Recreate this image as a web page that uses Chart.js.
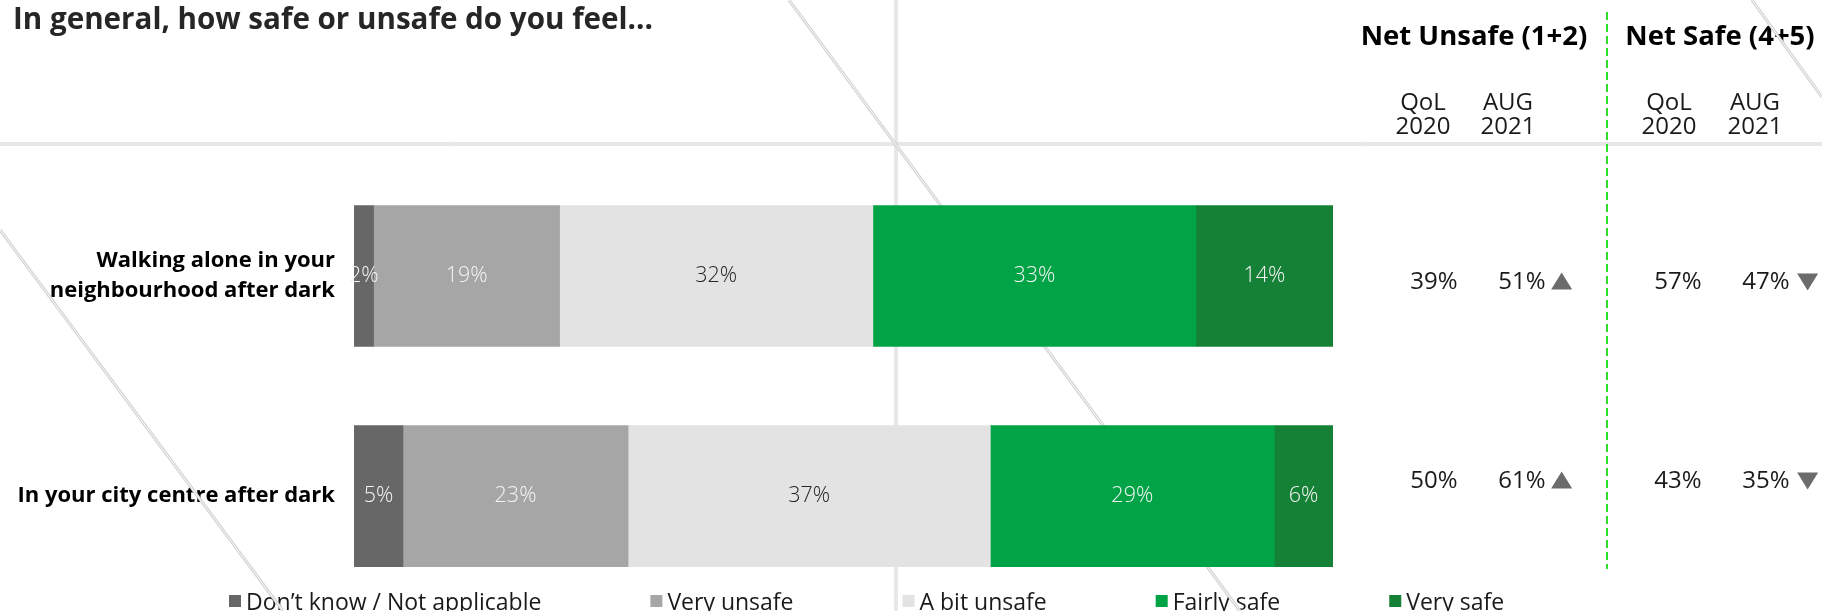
<!DOCTYPE html>
<html lang="en">
<head>
    <meta charset="UTF-8">
    <title>How safe or unsafe do you feel</title>
    <script src="https://cdn.jsdelivr.net/npm/chart.js"></script>
    <style>
        html, body { margin: 0; padding: 0; background: #fff; overflow: hidden; }
        #wrap { position: relative; width: 1822px; height: 611px; overflow: hidden; }
    </style>
</head>
<body>
<!-- canvas is a bit taller than the page: the y axis keeps half a label + padding free below the bars -->
<div id="wrap"><canvas id="safetyChart" width="1822" height="647"></canvas></div>
<script>
    // data
    const categories = [["Walking alone in your", "neighbourhood after dark"], "In your city centre after dark"];
    const seriesNames = ["Don’t know / Not applicable", "Very unsafe", "A bit unsafe", "Fairly safe", "Very safe"];
    const dontKnow = [2, 5];
    const veryUnsafe = [19, 23];
    const bitUnsafe = [32, 37];
    const fairlySafe = [33, 29];
    const verySafe = [14, 6];

    const netUnsafeQoL2020 = [39, 50];
    const netUnsafeAug2021 = [51, 61];
    const netSafeQoL2020 = [57, 43];
    const netSafeAug2021 = [47, 35];

    const colors = ['#676767', '#a6a6a6', '#e3e3e3', '#00a346', '#158137'];
    const labelColors = ['#f4f4f4', '#f4f4f4', '#262626', '#f4f4f4', '#f4f4f4'];
    const FONT = '"Open Sans", "DejaVu Sans", sans-serif';

    const rowNudge = [6, -15];   // table text sits a little off the bar centres

    function drawLine(ctx, x1, y1, x2, y2) {
        ctx.beginPath(); ctx.moveTo(x1, y1); ctx.lineTo(x2, y2);
        ctx.strokeStyle = '#d2d2d2'; ctx.lineWidth = 3; ctx.stroke();
        ctx.strokeStyle = '#fcfcfc'; ctx.lineWidth = 1; ctx.stroke();
    }

    function triangle(ctx, cx, cy, up) {
        const w = 21, h = 17;
        ctx.beginPath();
        if (up) {
            ctx.moveTo(cx, cy - h / 2); ctx.lineTo(cx + w / 2, cy + h / 2); ctx.lineTo(cx - w / 2, cy + h / 2);
        } else {
            ctx.moveTo(cx - w / 2, cy - h / 2); ctx.lineTo(cx + w / 2, cy - h / 2); ctx.lineTo(cx, cy + h / 2);
        }
        ctx.closePath();
        ctx.fillStyle = '#6b6b6b';
        ctx.fill();
    }

    const slideExtras = {
        id: 'slideExtras',
        beforeDatasetsDraw(chart) {
            const ctx = chart.ctx;
            const yScale = chart.scales.y;
            ctx.save();

            // title
            ctx.fillStyle = '#262626';
            ctx.font = `bold 29.6px ${FONT}`;
            ctx.textAlign = 'left';
            ctx.textBaseline = 'middle';
            ctx.fillText('In general, how safe or unsafe do you feel...', 13, 21);

            // net headers
            ctx.fillStyle = '#000';
            ctx.textAlign = 'center';
            ctx.font = `bold 27.5px ${FONT}`;
            ctx.fillText('Net Unsafe (1+2)', 1474, 37);
            ctx.fillText('Net Safe (4+5)', 1720, 37);

            ctx.fillStyle = '#1a1a1a';
            ctx.font = `24px ${FONT}`;
            [[1423, 'QoL', '2020'], [1508, 'AUG', '2021'], [1669, 'QoL', '2020'], [1755, 'AUG', '2021']].forEach(h => {
                ctx.fillText(h[1], h[0], 103);
                ctx.fillText(h[2], h[0], 127);
            });

            // net values
            ctx.font = `24px ${FONT}`;
            categories.forEach((c, i) => {
                const y = yScale.getPixelForValue(i) + rowNudge[i];
                ctx.fillStyle = '#1a1a1a';
                ctx.textAlign = 'center';
                ctx.fillText(netUnsafeQoL2020[i] + '%', 1434, y);
                ctx.fillText(netUnsafeAug2021[i] + '%', 1522, y);
                ctx.fillText(netSafeQoL2020[i] + '%', 1678, y);
                ctx.fillText(netSafeAug2021[i] + '%', 1766, y);
                const w1 = ctx.measureText(netUnsafeAug2021[i] + '%').width;
                const w2 = ctx.measureText(netSafeAug2021[i] + '%').width;
                triangle(ctx, 1522 + w1 / 2 + 16, y - 1, netUnsafeAug2021[i] > netUnsafeQoL2020[i]);
                triangle(ctx, 1766 + w2 / 2 + 18, y, netSafeAug2021[i] > netSafeQoL2020[i]);
            });

            // legend
            ctx.font = `23px ${FONT}`;
            ctx.textAlign = 'left';
            let lx = 229;
            chart.data.datasets.forEach(ds => {
                ctx.fillStyle = ds.backgroundColor;
                ctx.fillRect(lx, 595, 12, 12);
                ctx.fillStyle = '#1a1a1a';
                ctx.fillText(ds.label, lx + 17, 603);
                lx += 17 + ctx.measureText(ds.label).width + 109;
            });

            // faint guide lines visible on the slide
            drawLine(ctx, 0, 144, 1822, 144);
            drawLine(ctx, 896, 0, 896, 611);
            drawLine(ctx, 789, 0, 1240, 611);
            drawLine(ctx, 0, 230, 283, 611);
            drawLine(ctx, 1752, 0, 1822, 97);

            // green dashed separator
            ctx.beginPath();
            ctx.setLineDash([8, 4]);
            ctx.moveTo(1607, 12);
            ctx.lineTo(1607, 569);
            ctx.strokeStyle = '#2ee02e';
            ctx.lineWidth = 2;
            ctx.stroke();
            ctx.restore();
        },
        afterDatasetsDraw(chart) {
            const ctx = chart.ctx;
            ctx.save();
            ctx.font = `300 21.5px ${FONT}`;
            ctx.textAlign = 'center';
            ctx.textBaseline = 'middle';
            chart.data.datasets.forEach((ds, di) => {
                chart.getDatasetMeta(di).data.forEach((bar, i) => {
                    const p = bar.getProps(['x', 'y', 'base'], true);
                    ctx.fillStyle = labelColors[di];
                    ctx.fillText(ds.data[i] + '%', (p.x + p.base) / 2, p.y);
                });
            });
            ctx.restore();
        }
    };

    const seriesValues = [dontKnow, veryUnsafe, bitUnsafe, fairlySafe, verySafe];

    new Chart(document.getElementById('safetyChart'), {
        type: 'bar',
        data: {
            labels: categories,
            datasets: seriesNames.map((name, i) => ({
                label: name,
                data: seriesValues[i],
                backgroundColor: colors[i],
                borderWidth: 0,
                barThickness: 141
            }))
        },
        options: {
            indexAxis: 'y',
            responsive: false,
            animation: false,
            layout: { padding: { top: 166, bottom: 0, left: 0, right: 489 } },
            plugins: {
                legend: { display: false },
                tooltip: { enabled: false }
            },
            scales: {
                x: { stacked: true, min: 0, max: 100, display: false },
                y: {
                    stacked: true,
                    grid: { display: false },
                    border: { display: false },
                    ticks: {
                        color: '#000',
                        padding: 11,
                        font: { family: FONT, weight: 'bold', size: 22, lineHeight: 1.36 }
                    },
                    afterFit: s => { s.width = 354; }
                }
            }
        },
        plugins: [slideExtras]
    });
</script>
</body>
</html>
